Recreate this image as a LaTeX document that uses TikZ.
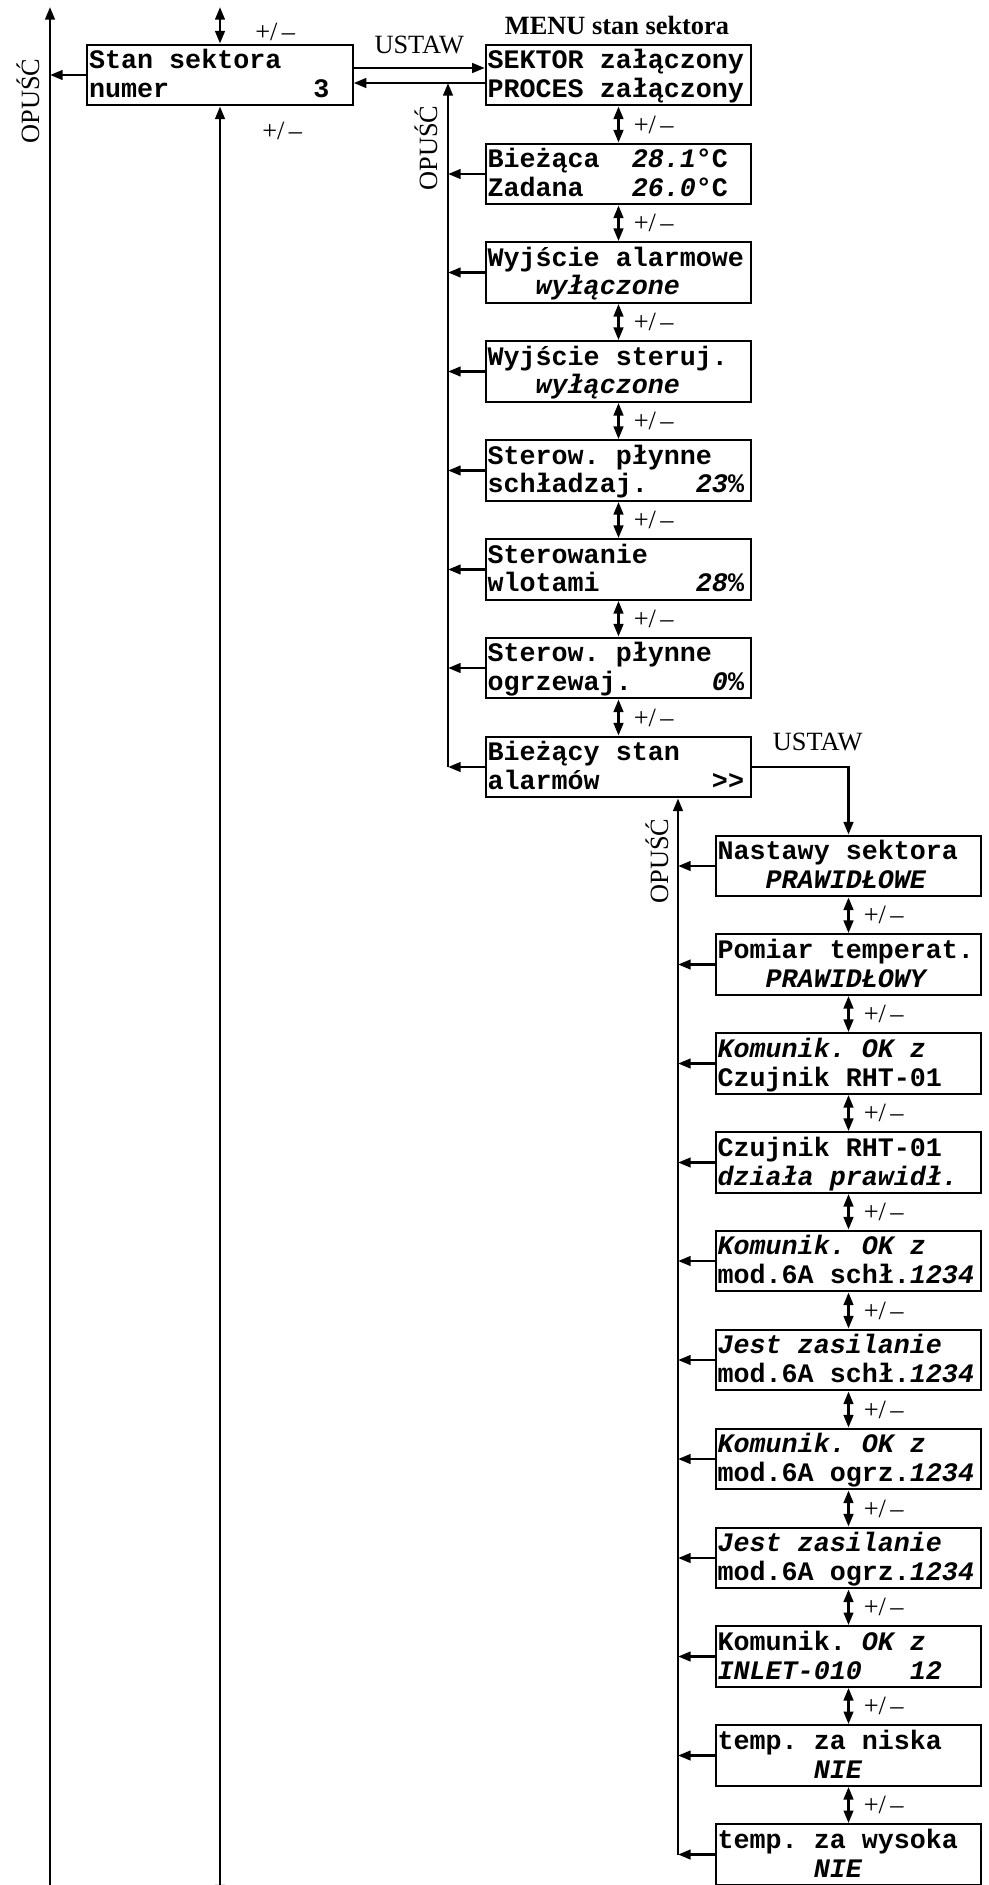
\documentclass[tikz,border=0pt]{standalone}
\usepackage{fontspec}
\setmainfont{Liberation Serif}
\setmonofont{Liberation Mono}
\usetikzlibrary{arrows.meta,positioning,calc}

\begin{document}
\begin{tikzpicture}[
        screen/.style={rectangle, draw, line width=1.1pt, text width=149pt, align=left,
                       inner xsep=1pt, inner ysep=0pt, text height=13.6pt, text depth=21pt,
                       font=\ttfamily\bfseries\fontsize{15.2}{16.5}\selectfont\frenchspacing,
                       execute at begin node={\spaceskip=0.6em\relax\xspaceskip=0.6em\relax}},
        lbl/.style={font=\fontsize{15}{16}\selectfont, inner sep=0pt},
        pm/.style={lbl, midway, right=0.28cm},
        line/.style={line width=1.5pt},
        >={Triangle[length=7.2pt,width=5.4pt]}
    ]
        \useasboundingbox (0,0) rectangle (19.78,-37.7);

        % Main screen
        \node[screen] (b1) at (4.4,-1.5) {Stan sektora\\numer~~~~~~~~~3};

        % MENU stan sektora
        \node[lbl, font=\fontsize{15}{16}\selectfont\bfseries] (menu) at (12.34,-0.51) {MENU stan sektora};
        \node[screen] (b2) at (12.37,-1.5) {SEKTOR załączony\\PROCES załączony};
        \node[screen] (b3) at (12.37,-3.48) {Bieżąca~~\textit{28.1}°C\\Zadana~~~\textit{26.0}°C};
        \node[screen] (b4) at (12.37,-5.45) {Wyjście alarmowe\\\hspace*{1.8em}\textit{wyłączone}};
        \node[screen] (b5) at (12.37,-7.43) {Wyjście steruj.\\\hspace*{1.8em}\textit{wyłączone}};
        \node[screen] (b6) at (12.37,-9.41) {Sterow. płynne\\schładzaj.~~~\textit{23}\%};
        \node[screen] (b7) at (12.37,-11.39) {Sterowanie\\wlotami~~~~~~\textit{28}\%};
        \node[screen] (b8) at (12.37,-13.36) {Sterow. płynne\\ogrzewaj.~~~~~\textit{0}\%};
        \node[screen] (b9) at (12.37,-15.34) {Bieżący stan\\alarmów~~~~~~~>{}>};

        % Alarm screens
        \node[screen] (b10) at (16.97,-17.32) {Nastawy sektora\\\hspace*{1.8em}\textit{PRAWIDŁOWE}};
        \node[screen] (b11) at (16.97,-19.29) {Pomiar temperat.\\\hspace*{1.8em}\textit{PRAWIDŁOWY}};
        \node[screen] (b12) at (16.97,-21.27) {\textit{Komunik. OK z}\\Czujnik RHT-01};
        \node[screen] (b13) at (16.97,-23.25) {Czujnik RHT-01\\\textit{działa prawidł.}};
        \node[screen] (b14) at (16.97,-25.22) {\textit{Komunik. OK z}\\mod.6A schł.\textit{1234}};
        \node[screen] (b15) at (16.97,-27.20) {\textit{Jest zasilanie}\\mod.6A schł.\textit{1234}};
        \node[screen] (b16) at (16.97,-29.18) {\textit{Komunik. OK z}\\mod.6A ogrz.\textit{1234}};
        \node[screen] (b17) at (16.97,-31.16) {\textit{Jest zasilanie}\\mod.6A ogrz.\textit{1234}};
        \node[screen] (b18) at (16.97,-33.13) {Komunik. \textit{OK z}\\\textit{INLET-010~~~12}};
        \node[screen] (b19) at (16.97,-35.11) {temp. za niska\\\hspace*{3.6em}\textit{NIE}};
        \node[screen] (b20) at (16.97,-37.09) {temp. za wysoka\\\hspace*{3.6em}\textit{NIE}};

        % Main screen arrows
        \coordinate (tL) at (1,-0.14);
        \coordinate (bL) at (1,-37.8);
        \coordinate (tM) at (4.4,-0.14);
        \coordinate (bM) at (4.4,-37.95);
        \draw[line,->] (bL) -- (tL);
        \draw[line,->] (b1.west) -- (b1.west -| tL);
        \node[lbl, rotate=90] (opusc1) at (0.56,-2.02) {OPUŚĆ};
        \draw[line,<->] (tM) -- (b1.north);
        \draw[line,<->] (b1.south) -- (bM);
        \node[lbl, anchor=west] (pmtop) at (5.1,-0.64) {+/\,–};
        \node[lbl, anchor=west] (pmbot) at (5.24,-2.62) {+/\,–};

        % USTAW / OPUSC to menu
        \draw[line,->] ([yshift=0.14cm]b1.east) -- ([yshift=0.14cm]b2.west)
            node[lbl, midway, above=0.26cm] (ustaw1) {USTAW};
        \draw[line,->] ([yshift=-0.16cm]b2.west) -- ([yshift=-0.16cm]b1.east);
        \coordinate (opA) at (8.96,-1.66);
        \draw[line,->] (b9.west -| opA) -- (opA);
        \node[lbl, rotate=90] (opusc2) at (8.52,-2.96) {OPUŚĆ};
        \draw[line,->] (b3.west) -- (b3.west -| opA);
        \draw[line,->] (b4.west) -- (b4.west -| opA);
        \draw[line,->] (b5.west) -- (b5.west -| opA);
        \draw[line,->] (b6.west) -- (b6.west -| opA);
        \draw[line,->] (b7.west) -- (b7.west -| opA);
        \draw[line,->] (b8.west) -- (b8.west -| opA);
        \draw[line,->] (b9.west) -- (b9.west -| opA);

        % +/- in menu
        \draw[line,<->] (b2) -- (b3) node[pm] (pm2) {+/\,–};
        \draw[line,<->] (b3) -- (b4) node[pm] (pm3) {+/\,–};
        \draw[line,<->] (b4) -- (b5) node[pm] (pm4) {+/\,–};
        \draw[line,<->] (b5) -- (b6) node[pm] (pm5) {+/\,–};
        \draw[line,<->] (b6) -- (b7) node[pm] (pm6) {+/\,–};
        \draw[line,<->] (b7) -- (b8) node[pm] (pm7) {+/\,–};
        \draw[line,<->] (b8) -- (b9) node[pm] (pm8) {+/\,–};

        % USTAW / OPUSC to alarms
        \draw[line,->] (b9.east) -| (b10)
            node[lbl, pos=0.34, above=0.3cm] (ustaw2) {USTAW};
        \coordinate (opB) at (13.56,0);
        \draw[line,->] (b20.west -| opB) -- (b9.south -| opB);
        \node[lbl, rotate=90] (opusc3) at (13.14,-17.22) {OPUŚĆ};
        \draw[line,->] (b10.west) -- (b10.west -| opB);
        \draw[line,->] (b11.west) -- (b11.west -| opB);
        \draw[line,->] (b12.west) -- (b12.west -| opB);
        \draw[line,->] (b13.west) -- (b13.west -| opB);
        \draw[line,->] (b14.west) -- (b14.west -| opB);
        \draw[line,->] (b15.west) -- (b15.west -| opB);
        \draw[line,->] (b16.west) -- (b16.west -| opB);
        \draw[line,->] (b17.west) -- (b17.west -| opB);
        \draw[line,->] (b18.west) -- (b18.west -| opB);
        \draw[line,->] (b19.west) -- (b19.west -| opB);
        \draw[line,->] (b20.west) -- (b20.west -| opB);

        % +/- in alarms
        \draw[line,<->] (b10) -- (b11) node[pm] (pm10) {+/\,–};
        \draw[line,<->] (b11) -- (b12) node[pm] (pm11) {+/\,–};
        \draw[line,<->] (b12) -- (b13) node[pm] (pm12) {+/\,–};
        \draw[line,<->] (b13) -- (b14) node[pm] (pm13) {+/\,–};
        \draw[line,<->] (b14) -- (b15) node[pm] (pm14) {+/\,–};
        \draw[line,<->] (b15) -- (b16) node[pm] (pm15) {+/\,–};
        \draw[line,<->] (b16) -- (b17) node[pm] (pm16) {+/\,–};
        \draw[line,<->] (b17) -- (b18) node[pm] (pm17) {+/\,–};
        \draw[line,<->] (b18) -- (b19) node[pm] (pm18) {+/\,–};
        \draw[line,<->] (b19) -- (b20) node[pm] (pm19) {+/\,–};
    \end{tikzpicture}
\end{document}
